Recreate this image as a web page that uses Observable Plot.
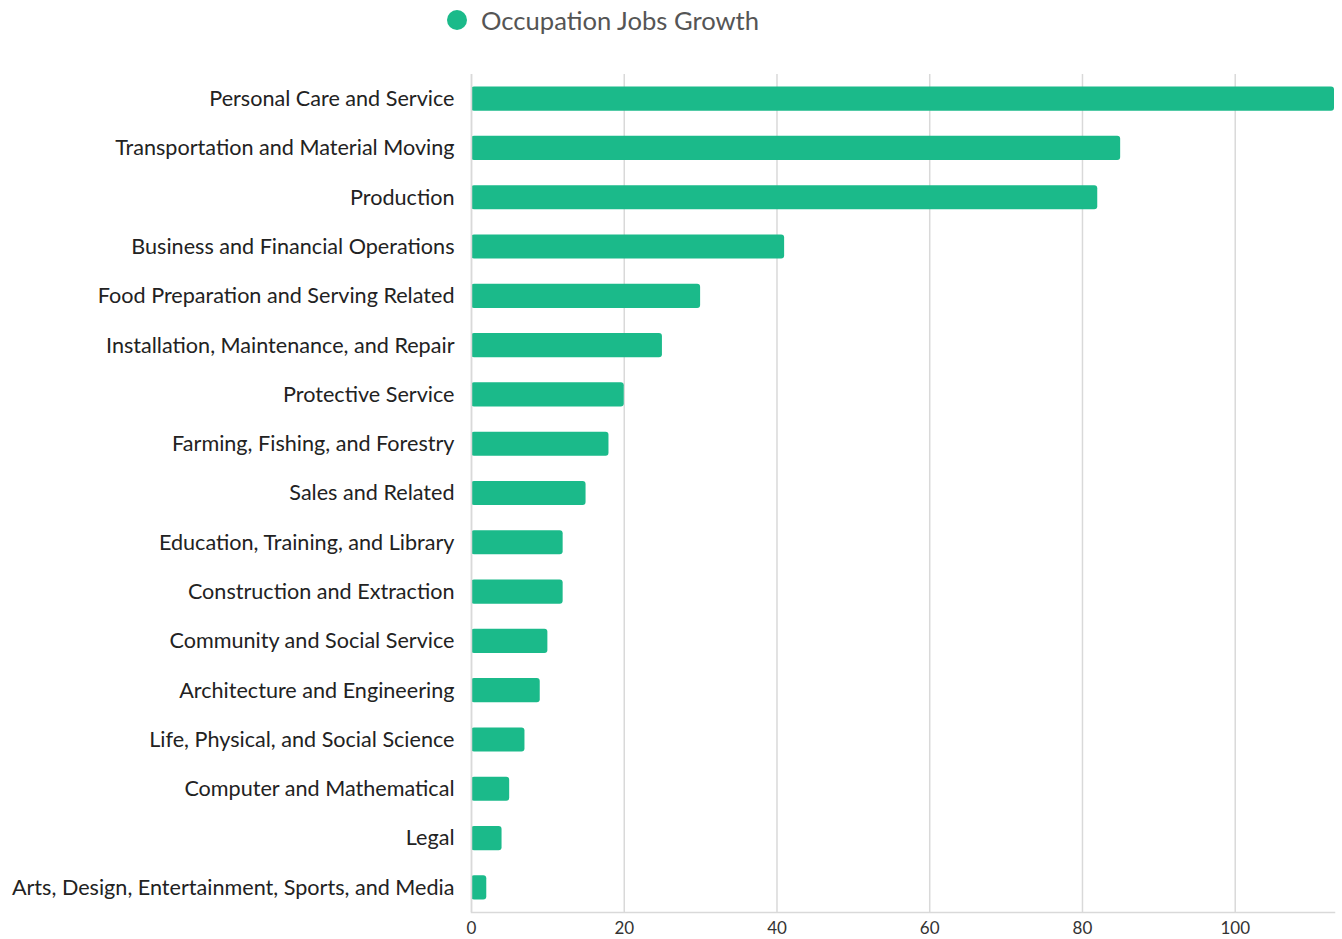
<!DOCTYPE html>
<html>
<head>
<meta charset="utf-8">
<script src="https://cdn.jsdelivr.net/npm/d3@7"></script>
<script src="https://cdn.jsdelivr.net/npm/@observablehq/plot@0.6"></script>
<style>
  body { margin: 0; background: #fff; font-family: Lato, sans-serif; }
  #wrap { position: relative; width: 1342px; height: 939px; }
  #legend { position: absolute; left: 447px; top: 4px; height: 32px; display: flex; align-items: center; font-family: Lato, sans-serif; font-size: 25.6px; color: #555; }
  #legend .dot { width: 20px; height: 20px; border-radius: 50%; background: #1bba8a; margin-right: 14px; }
</style>
</head>
<body>
<div id="wrap">
  <div id="legend"><span class="dot"></span><span>Occupation Jobs Growth</span></div>
  <div id="chart"></div>
</div>
<script>
const categories = [
  "Personal Care and Service",
  "Transportation and Material Moving",
  "Production",
  "Business and Financial Operations",
  "Food Preparation and Serving Related",
  "Installation, Maintenance, and Repair",
  "Protective Service",
  "Farming, Fishing, and Forestry",
  "Sales and Related",
  "Education, Training, and Library",
  "Construction and Extraction",
  "Community and Social Service",
  "Architecture and Engineering",
  "Life, Physical, and Social Science",
  "Computer and Mathematical",
  "Legal",
  "Arts, Design, Entertainment, Sports, and Media"
];
const growth = [113, 85, 82, 41, 30, 25, 20, 18, 15, 12, 12, 10, 9, 7, 5, 4, 2];
const xTicks = [0, 20, 40, 60, 80, 100];

const data = categories.map((c, i) => ({category: c, value: growth[i]}));

const chart = Plot.plot({
  width: 1342,
  height: 939,
  marginTop: 74,
  marginBottom: 27,
  marginLeft: 471,
  marginRight: 8,
  style: {fontFamily: "Lato, sans-serif", background: "#fff"},
  x: {domain: [0, 113], ticks: xTicks, label: null, grid: false},
  y: {domain: categories, label: null, paddingInner: 0.51, paddingOuter: 0.255, round: false},
  marks: [
    Plot.gridX(xTicks, {stroke: "#d9d9d9", strokeOpacity: 1, strokeWidth: 1.5}),
    Plot.barX(data, {y: "category", x: "value", fill: "#1bba8a", rx: 3}),
    Plot.ruleX([0], {stroke: "#d9d9d9", strokeWidth: 1.5}),
    Plot.frame({anchor: "bottom", stroke: "#d9d9d9", strokeWidth: 1.5}),
    Plot.axisX({ticks: xTicks, tickSize: 0, tickPadding: 9, fontSize: 17, color: "#333", label: null}),
    Plot.axisY({tickSize: 0, tickPadding: 17, fontSize: 21.6, color: "#222", label: null})
  ]
});
document.getElementById("chart").appendChild(chart);
</script>
</body>
</html>
